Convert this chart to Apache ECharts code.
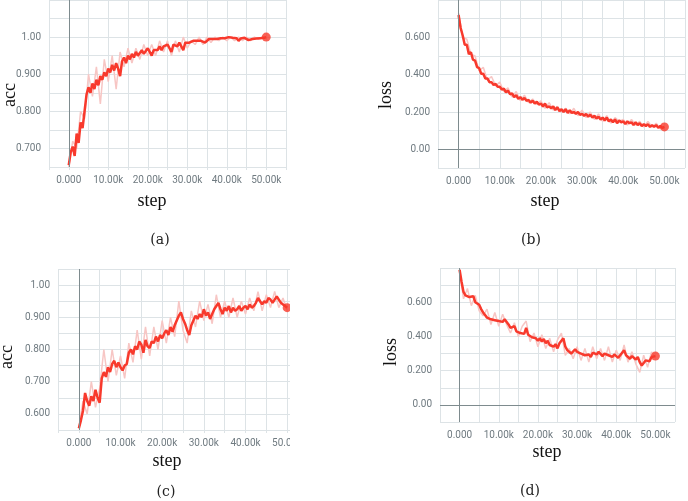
<!DOCTYPE html>
<html>
<head>
<meta charset="utf-8">
<script src="https://cdn.jsdelivr.net/npm/echarts@6/dist/echarts.min.js"></script>
<style>
html,body{margin:0;padding:0;background:#fff}
#chart{width:688px;height:501px}
</style>
</head>
<body>
<div id="chart"></div>
<script>
// logged steps: smoothed curve every 500 steps, raw (light) curve every 1000 steps
var stepsSmooth = [], stepsRaw = []
for (var s = 0; s <= 50000; s += 500) stepsSmooth.push(s)
for (var s = 0; s <= 50000; s += 1000) stepsRaw.push(s)

// (a) acc
var accA = [0.655,0.69,0.705,0.68,0.74,0.715,0.77,0.755,0.80,0.845,0.865,0.85,0.875,0.86,0.885,0.87,0.895,0.885,0.905,0.895,
  0.915,0.905,0.925,0.91,0.93,0.915,0.895,0.935,0.945,0.93,0.95,0.94,0.955,0.945,0.96,0.95,0.955,0.965,0.955,0.96,
  0.97,0.96,0.95,0.965,0.97,0.965,0.975,0.965,0.975,0.97,0.98,0.975,0.96,0.98,0.985,0.975,0.985,0.98,0.965,0.985,
  0.99,0.985,0.98,0.99,0.985,0.99,0.985,0.99,0.995,0.985,0.99,0.995,0.99,0.995,0.99,0.995,0.99,0.997,0.993,0.997,
  0.995,1.0,0.995,0.998,0.993,0.997,0.99,0.996,0.993,0.998,0.995,0.992,0.997,0.995,0.999,0.996,0.998,0.997,1.0,0.998,1.0]
var accRawA = [0.65,0.72,0.70,0.80,0.78,0.90,0.84,0.92,0.82,0.94,0.88,0.95,0.86,0.96,0.92,0.97,0.93,0.97,0.94,0.98,
  0.95,0.98,0.95,0.99,0.96,0.99,0.95,0.99,0.96,1.0,0.97,0.99,0.98,1.0,0.98,1.0,0.985,1.0,0.99,1.0,
  0.99,1.0,0.99,1.0,0.99,1.0,0.99,1.0,0.995,1.0,1.0]

// (b) loss
var lossB = [0.72,0.65,0.61,0.56,0.56,0.51,0.52,0.48,0.475,0.44,0.435,0.405,0.405,0.38,0.38,0.36,0.36,0.345,0.35,0.335,
  0.335,0.32,0.325,0.305,0.315,0.295,0.30,0.28,0.29,0.27,0.28,0.265,0.275,0.26,0.265,0.25,0.26,0.245,0.255,0.24,
  0.245,0.23,0.245,0.225,0.23,0.22,0.23,0.21,0.225,0.205,0.215,0.20,0.215,0.195,0.21,0.195,0.20,0.19,0.20,0.185,
  0.19,0.18,0.19,0.175,0.185,0.17,0.18,0.165,0.175,0.16,0.17,0.155,0.17,0.15,0.16,0.145,0.16,0.14,0.155,0.145,
  0.15,0.135,0.15,0.14,0.145,0.13,0.145,0.13,0.14,0.125,0.135,0.125,0.135,0.12,0.13,0.12,0.13,0.115,0.125,0.115,0.12]
var lossRawB = [0.73,0.60,0.59,0.51,0.50,0.42,0.44,0.37,0.39,0.34,0.36,0.31,0.33,0.28,0.31,0.26,0.29,0.25,0.27,0.24,
  0.26,0.22,0.25,0.21,0.23,0.20,0.22,0.19,0.22,0.18,0.21,0.17,0.20,0.16,0.19,0.15,0.18,0.14,0.17,0.15,
  0.16,0.13,0.16,0.13,0.15,0.12,0.15,0.12,0.14,0.11,0.12]

// (c) acc
var accC = [0.555,0.58,0.61,0.665,0.64,0.625,0.655,0.64,0.675,0.65,0.635,0.71,0.73,0.715,0.745,0.73,0.755,0.765,0.745,0.76,
  0.745,0.735,0.75,0.755,0.79,0.80,0.785,0.81,0.80,0.825,0.815,0.79,0.83,0.81,0.805,0.825,0.82,0.84,0.825,0.845,
  0.835,0.85,0.86,0.845,0.87,0.855,0.875,0.89,0.905,0.915,0.895,0.88,0.86,0.845,0.875,0.89,0.905,0.895,0.91,0.90,
  0.925,0.905,0.915,0.895,0.91,0.925,0.935,0.945,0.925,0.91,0.93,0.92,0.935,0.915,0.93,0.92,0.925,0.935,0.92,0.93,
  0.935,0.925,0.94,0.93,0.935,0.945,0.96,0.95,0.94,0.95,0.945,0.96,0.955,0.945,0.955,0.965,0.955,0.945,0.94,0.935,0.93]
var accRawC = [0.56,0.64,0.60,0.70,0.62,0.68,0.80,0.70,0.80,0.72,0.78,0.71,0.82,0.76,0.86,0.77,0.87,0.78,0.87,0.80,
  0.89,0.82,0.90,0.84,0.95,0.86,0.82,0.92,0.87,0.95,0.89,0.94,0.88,0.97,0.90,0.95,0.90,0.96,0.90,0.95,
  0.91,0.96,0.92,0.98,0.92,0.97,0.93,0.98,0.93,0.96,0.92]

// (d) loss
var lossD = [0.79,0.72,0.66,0.64,0.65,0.63,0.62,0.635,0.60,0.61,0.585,0.56,0.54,0.525,0.51,0.52,0.50,0.51,0.495,0.505,
  0.49,0.50,0.485,0.50,0.51,0.47,0.45,0.44,0.46,0.43,0.44,0.42,0.43,0.415,0.45,0.41,0.42,0.395,0.385,0.39,
  0.375,0.39,0.37,0.385,0.36,0.375,0.35,0.36,0.34,0.355,0.33,0.36,0.37,0.39,0.34,0.32,0.31,0.30,0.31,0.325,
  0.31,0.32,0.30,0.305,0.29,0.285,0.295,0.28,0.305,0.31,0.295,0.31,0.30,0.285,0.30,0.31,0.29,0.30,0.28,0.295,
  0.29,0.275,0.29,0.30,0.32,0.29,0.28,0.27,0.285,0.275,0.265,0.28,0.25,0.23,0.245,0.26,0.27,0.255,0.28,0.29,0.285]
var lossRawD = [0.79,0.62,0.68,0.58,0.64,0.55,0.52,0.56,0.47,0.54,0.46,0.53,0.47,0.42,0.48,0.40,0.46,0.49,0.37,0.42,
  0.34,0.41,0.33,0.39,0.31,0.38,0.42,0.29,0.33,0.27,0.34,0.26,0.33,0.25,0.34,0.27,0.33,0.26,0.34,0.25,
  0.32,0.26,0.35,0.25,0.31,0.24,0.19,0.29,0.22,0.31,0.28]

var panels = [
  {smooth: accA,  raw: accRawA,  name: 'acc',  caption: '(a)', grid: {left: 49,  top: 0,   width: 237, height: 167},
   yMin: 0.65, yMax: 1.10, yStep: 0.05, labelStep: 0.1, labelMax: 1.0, yZero: false,
   nameXY: [10, 95], stepXY: [152, 201], capXY: [160, 240]},
  {smooth: lossB, raw: lossRawB, name: 'loss', caption: '(b)', grid: {left: 438, top: -13, width: 249, height: 181},
   yMin: -0.1, yMax: 0.8, yStep: 0.1, labelStep: 0.2, labelMax: 0.6, yZero: true,
   nameXY: [386, 95], stepXY: [545, 201], capXY: [531, 240]},
  {smooth: accC,  raw: accRawC,  name: 'acc',  caption: '(c)', grid: {left: 58,  top: 269, width: 250, height: 161},
   yMin: 0.55, yMax: 1.05, yStep: 0.05, labelStep: 0.1, labelMax: 1.0, yZero: false,
   nameXY: [7, 357], stepXY: [167, 461], capXY: [166, 492]},
  {smooth: lossD, raw: lossRawD, name: 'loss', caption: '(d)', grid: {left: 440, top: 268, width: 235, height: 154},
   yMin: -0.1, yMax: 0.8, yStep: 0.1, labelStep: 0.2, labelMax: 0.6, yZero: true,
   nameXY: [391, 352], stepXY: [547, 452], capXY: [530, 491]}
]

var gridColor = '#dde3e6'
var zeroColor = '#7e8b8e'
var lineColor = '#f8392c'
var rawColor = '#f7c6c4'
var tickFont = {color: '#6f7a80', fontSize: 10, fontFamily: 'Roboto'}

function fmtStep (v) {
  if (v < 0 || v % 10000 !== 0) return ''
  return v === 0 ? '0.000' : (v / 1000).toFixed(2) + 'k'
}

function pair (steps, vals) {
  return vals.map(function (v, i) { return [steps[i], v] })
}

var grids = [], xAxes = [], yAxes = [], series = [], graphics = []
panels.forEach(function (p, i) {
  grids.push(Object.assign({containLabel: false}, p.grid))
  xAxes.push({
    gridIndex: i, type: 'value', min: -5000, max: 55000, interval: 5000,
    axisLine: {show: false},
    axisTick: {show: true, length: 3, lineStyle: {color: gridColor}},
    splitLine: {show: true, lineStyle: {color: gridColor}},
    axisLabel: Object.assign({margin: 8, formatter: fmtStep, showMinLabel: true, showMaxLabel: true}, tickFont)
  })
  yAxes.push({
    gridIndex: i, type: 'value', min: p.yMin, max: p.yMax, interval: p.yStep,
    axisLine: {show: false},
    axisTick: {show: true, length: 3, lineStyle: {color: gridColor}},
    splitLine: {show: true, lineStyle: {color: gridColor}},
    axisLabel: Object.assign({
      margin: 8,
      formatter: function (v) {
        var r = Math.round(v / p.labelStep) * p.labelStep
        if (Math.abs(r - v) > 1e-6 || v < -1e-6 || v > p.labelMax + 1e-6) return ''
        return Number(Math.round(v * 1000) / 1000).toPrecision(3)
      }
    }, tickFont)
  })
  var zeroLines = [{xAxis: 0}]
  if (p.yZero) zeroLines.push({yAxis: 0})
  series.push({
    type: 'line', xAxisIndex: i, yAxisIndex: i, data: pair(stepsRaw, p.raw),
    showSymbol: false, silent: true, animation: false, z: 1,
    lineStyle: {color: rawColor, width: 1.5}
  })
  series.push({
    type: 'line', xAxisIndex: i, yAxisIndex: i, data: pair(stepsSmooth, p.smooth),
    showSymbol: false, silent: true, animation: false, z: 2,
    lineStyle: {color: lineColor, width: 2.5},
    markLine: {
      silent: true, symbol: 'none', animation: false, label: {show: false},
      lineStyle: {color: zeroColor, width: 1, type: 'solid'},
      data: zeroLines
    }
  })
  var last = p.smooth.length - 1
  series.push({
    type: 'scatter', xAxisIndex: i, yAxisIndex: i, z: 3, animation: false, silent: true,
    data: [[stepsSmooth[last], p.smooth[last]]],
    symbolSize: 9, itemStyle: {color: lineColor}
  })
  graphics.push({
    type: 'text', x: p.nameXY[0], y: p.nameXY[1], rotation: Math.PI / 2,
    style: {text: p.name, align: 'center', verticalAlign: 'middle', font: '18px "Liberation Serif"', fill: '#111'}
  })
  graphics.push({
    type: 'text', x: p.stepXY[0], y: p.stepXY[1],
    style: {text: 'step', align: 'center', verticalAlign: 'middle', font: '18px "Liberation Serif"', fill: '#111'}
  })
  graphics.push({
    type: 'text', x: p.capXY[0], y: p.capXY[1],
    style: {text: p.caption, align: 'center', verticalAlign: 'middle', font: '14px "DejaVu Serif"', fill: '#222'}
  })
})
// panel (c) is cut off at its right edge in the original figure
graphics.push({type: 'rect', z: 100, shape: {x: 290, y: 255, width: 88, height: 215}, style: {fill: '#fff'}})

var chart = echarts.init(document.getElementById('chart'), null, {renderer: 'canvas'})
chart.setOption({
  animation: false,
  backgroundColor: '#fff',
  grid: grids,
  xAxis: xAxes,
  yAxis: yAxes,
  series: series,
  graphic: graphics
})
</script>
</body>
</html>
